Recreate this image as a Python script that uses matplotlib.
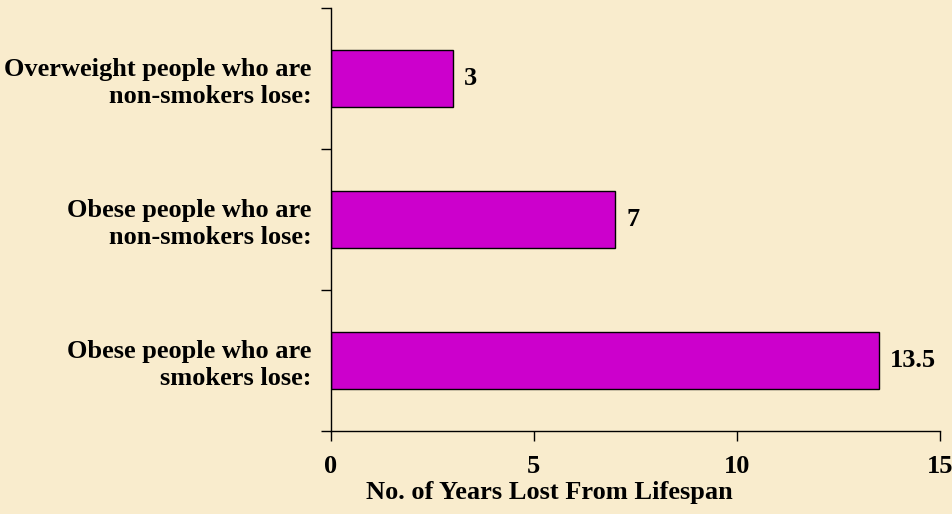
import numpy as np
import matplotlib
matplotlib.use("Agg")
import matplotlib.pyplot as plt

# Data (bottom to top)
categories = [
    "Obese people who are\nsmokers lose:",
    "Obese people who are\nnon-smokers lose:",
    "Overweight people who are\nnon-smokers lose:",
]
years_lost = [13.5, 7, 3]
value_labels = ["13.5", "7", "3"]
x_ticks = [0, 5, 10, 15]

plt.rcParams["font.family"] = ["Liberation Serif", "DejaVu Serif"]
plt.rcParams["font.weight"] = "bold"

fs = 19
bg = "#F9ECCD"
fig = plt.figure(figsize=(9.53, 5.14), dpi=100, facecolor=bg)
ax = fig.add_axes([330.7 / 953, 1 - 431 / 514, (940 - 330.7) / 953, (431 - 8) / 514])
ax.set_facecolor(bg)

y = np.arange(len(categories))
ax.barh(y, years_lost, height=0.4, color="#CC00CC", edgecolor="black", linewidth=1.0)

for yi, v, lab in zip(y, years_lost, value_labels):
    ax.text(v + 0.27, yi, lab, va="center", ha="left", fontsize=fs, fontweight="bold")

ax.set_xlim(0, 15)
ax.set_ylim(-0.5, len(categories) - 0.5)

# ticks at category boundaries, labels at category centres
ax.set_yticks(np.arange(-0.5, len(categories)))
ax.set_yticklabels([])
ax.set_yticks(y, minor=True)
ax.set_yticklabels(categories, minor=True, fontsize=fs, fontweight="bold", ha="right",
                   linespacing=1.22)
ax.tick_params(axis="y", which="minor", length=0, pad=14)
ax.tick_params(axis="y", which="major", direction="out", length=7, width=1)

ax.set_xticks(x_ticks)
ax.set_xticklabels([str(t) for t in x_ticks], fontsize=fs, fontweight="bold")
ax.tick_params(axis="x", direction="out", length=7, width=1, pad=10)

# axis title sits left of the axis centre, as in the original
fig.text(549 / 953, 1 - 492 / 514, "No. of Years Lost From Lifespan",
         ha="center", va="center", fontsize=fs, fontweight="bold")

for s in ["top", "right"]:
    ax.spines[s].set_visible(False)
for s in ["left", "bottom"]:
    ax.spines[s].set_linewidth(1.0)

fig.savefig("out.png", dpi=100, facecolor=bg)
